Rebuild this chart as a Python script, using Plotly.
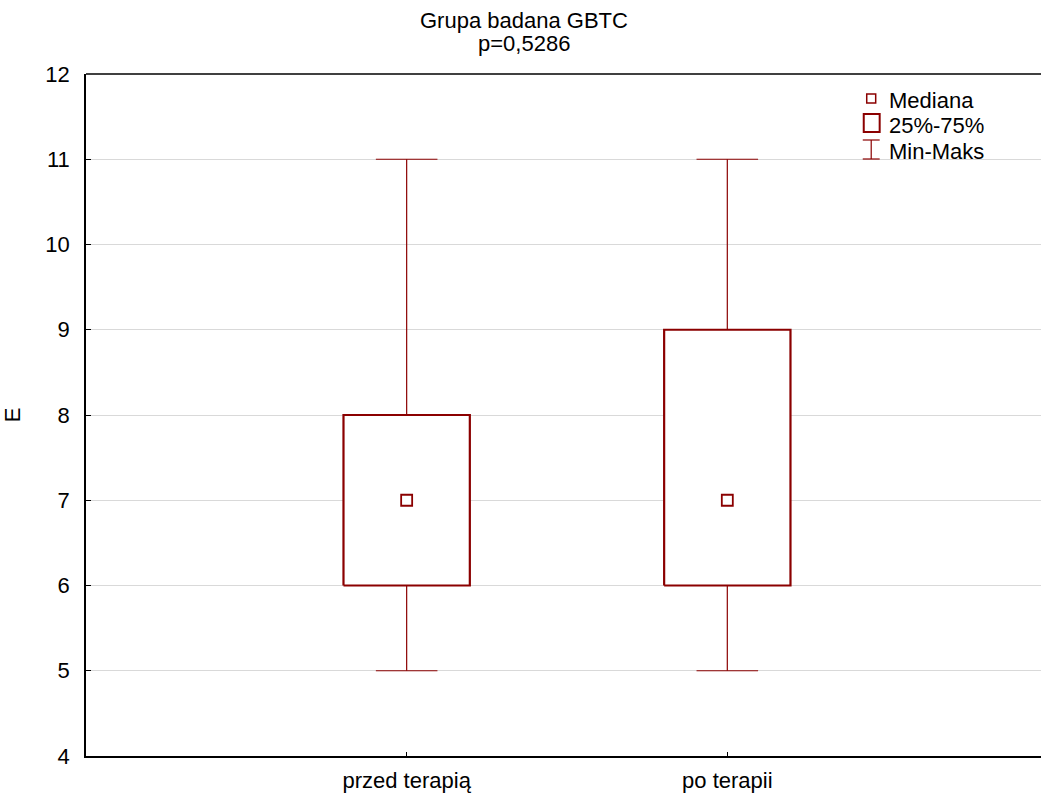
import plotly.graph_objects as go

categories = ["przed terapią", "po terapii"]
medians = [7, 7]
q1 = [6, 6]
q3 = [8, 9]
mins = [5, 5]
maxs = [11, 11]
title_lines = ["Grupa badana GBTC", "p=0,5286"]
y_label = "E"
legend_labels = ["Mediana", "25%-75%", "Min-Maks"]

COLOR = "#8B0000"
FONT = 22
W, H = 1041, 793
L, R, T, B = 82, 0, 74, 37
PW, PH = W - L - R, H - T - B

def px(x):
    return (x - L) / PW

def py(y):
    return (H - B - y) / PH

fig = go.Figure()
box_half = 0.197
cap_half = 0.096
xs = list(range(len(categories)))

for i in xs:
    fig.add_trace(go.Scatter(x=[i, i, None, i, i], y=[q3[i], maxs[i], None, q1[i], mins[i]],
                             mode="lines", line=dict(color=COLOR, width=1.2), showlegend=False,
                             hoverinfo="skip"))
    fig.add_trace(go.Scatter(x=[i - cap_half, i + cap_half, None, i - cap_half, i + cap_half],
                             y=[maxs[i], maxs[i], None, mins[i], mins[i]],
                             mode="lines", line=dict(color=COLOR, width=1.2), showlegend=False,
                             hoverinfo="skip"))
    fig.add_trace(go.Scatter(x=[i - box_half, i + box_half, i + box_half, i - box_half, i - box_half],
                             y=[q1[i], q1[i], q3[i], q3[i], q1[i]],
                             mode="lines", line=dict(color=COLOR, width=2.2), fill="toself",
                             fillcolor="white", showlegend=False, hoverinfo="skip"))

fig.add_trace(go.Scatter(x=xs, y=medians, mode="markers",
                         marker=dict(symbol="square", size=11, color="white",
                                     line=dict(color=COLOR, width=1.8)),
                         showlegend=False))

shapes = []
annotations = []
shapes.append(dict(type="line", xref="paper", yref="paper", x0=0, x1=1.02, y0=1, y1=1,
                   line=dict(color="black", width=1.5), layer="above"))
shapes.append(dict(type="rect", xref="paper", yref="paper",
                   x0=px(866), x1=px(875), y0=py(103), y1=py(94),
                   line=dict(color=COLOR, width=1.5), fillcolor="white"))
shapes.append(dict(type="rect", xref="paper", yref="paper",
                   x0=px(863), x1=px(879), y0=py(132), y1=py(114),
                   line=dict(color=COLOR, width=2), fillcolor="white"))
shapes.append(dict(type="line", xref="paper", yref="paper",
                   x0=px(870.5), x1=px(870.5), y0=py(159), y1=py(140),
                   line=dict(color=COLOR, width=1.2)))
shapes.append(dict(type="line", xref="paper", yref="paper",
                   x0=px(862), x1=px(879), y0=py(140), y1=py(140),
                   line=dict(color=COLOR, width=1.2)))
shapes.append(dict(type="line", xref="paper", yref="paper",
                   x0=px(862), x1=px(879), y0=py(159), y1=py(159),
                   line=dict(color=COLOR, width=1.2)))
for lbl, yy in zip(legend_labels, [101, 125, 151]):
    annotations.append(dict(text=lbl, xref="paper", yref="paper", x=px(886), y=py(yy),
                            xanchor="left", yanchor="middle", showarrow=False,
                            font=dict(size=FONT, color="black")))

for lbl, yy in zip(title_lines, [20, 43]):
    annotations.append(dict(text=lbl, xref="paper", yref="paper",
                            x=px(522), y=py(yy), xanchor="center", yanchor="middle",
                            showarrow=False, font=dict(size=FONT, color="black")))

fig.update_layout(
    width=W, height=H,
    margin=dict(l=L, r=R, t=T, b=B),
    plot_bgcolor="white", paper_bgcolor="white",
    font=dict(family="Liberation Sans, Arial, sans-serif", size=FONT, color="black"),
    shapes=shapes, annotations=annotations,
    showlegend=False,
    xaxis=dict(range=[-1, -1 + PW / 322], tickvals=xs, ticktext=categories,
               showgrid=False, zeroline=False, showline=True, linecolor="black",
               linewidth=1.5, mirror=False, ticks="inside", ticklen=4, tickcolor="black",
               tickfont=dict(size=FONT), ticklabelstandoff=4),
    yaxis=dict(range=[4, 12], dtick=1, showgrid=True, gridcolor="#d9d9d9", gridwidth=1,
               zeroline=False, showline=True, linecolor="black", linewidth=1.5,
               ticks="inside", ticklen=5, tickcolor="black", tickfont=dict(size=FONT),
               ticklabelstandoff=10,
               title=dict(text=y_label, font=dict(size=FONT), standoff=30)),
)

fig.write_html("out.html", config={"displayModeBar": False},
               post_script="document.body.style.margin='0';document.body.style.overflow='hidden';")
